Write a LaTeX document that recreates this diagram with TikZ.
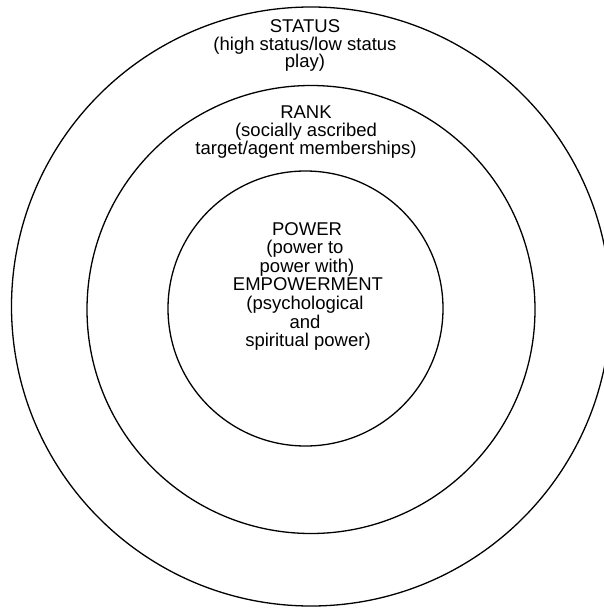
\documentclass[tikz,border=0pt]{standalone}
\usepackage{fontspec}
\setmainfont{Liberation Sans}
\begin{document}
\begin{tikzpicture}[x=1pt,y=-1pt,
  ring/.style={circle,draw=black,line width=1.3pt,inner sep=0pt},
  lbl/.style={anchor=base,inner sep=0pt,font=\fontsize{18.5}{18.5}\selectfont}]
\useasboundingbox (0,0) rectangle (604,608);
\node[ring,minimum size=599pt] (outer) at (311,306.5) {};
\node[ring,minimum size=448pt] (middle) at (311,309.5) {};
\node[ring,minimum size=275pt] (inner) at (305.5,308.5) {};
% status
\node[lbl] (s1) at (305,32) {STATUS};
\node[lbl] (s2) at (305,50) {(high status/low status};
\node[lbl] (s3) at (305,67.5) {play)};
% rank
\node[lbl] (r1) at (306,118) {RANK};
\node[lbl] (r2) at (306,136) {(socially ascribed};
\node[lbl] (r3) at (306,154) {target/agent memberships)};
% power
\node[lbl] (p1) at (307,235) {POWER};
\node[lbl] (p2) at (305,253.5) {(power to};
\node[lbl] (p3) at (307,272) {power with)};
\node[lbl] (p4) at (308,290.5) {EMPOWERMENT};
\node[lbl] (p5) at (305,309) {(psychological};
\node[lbl] (p6) at (305,328) {and};
\node[lbl] (p7) at (308,346.5) {spiritual power)};
\end{tikzpicture}
\end{document}
